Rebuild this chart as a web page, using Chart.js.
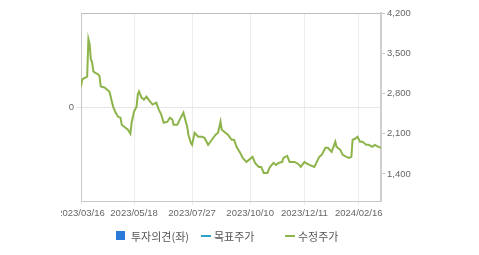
<!DOCTYPE html>
<html><head><meta charset="utf-8">
<script src="https://cdn.jsdelivr.net/npm/chart.js@4"></script>
<style>
html,body{margin:0;padding:0;background:#fff;}
#wrap{position:relative;width:479px;height:255px;overflow:hidden;}
#c{position:absolute;left:0;top:0;clip-path:inset(0 0 0 61px);}
.lg{position:absolute;font:11px "Noto Sans CJK KR","Noto Sans",sans-serif;color:#555;line-height:12px;top:230px;white-space:nowrap;}
.mk{position:absolute;}
</style></head>
<body>
<div id="wrap">
<canvas id="c" width="479" height="255"></canvas>
<div class="mk" style="left:116px;top:231px;width:9px;height:9px;background:#2b7bdb"></div>
<div class="lg" style="left:131px">투자의견(좌)</div>
<div class="mk" style="left:201px;top:235px;width:10px;height:2px;background:#2ba3c6"></div>
<div class="lg" style="left:214px">목표주가</div>
<div class="mk" style="left:285px;top:235px;width:10px;height:2px;background:#8db44a"></div>
<div class="lg" style="left:298px">수정주가</div>
</div>
<script>
// trading-day index (from 2023/03/16) and adjusted price
const dayIdx = [0,1,2,5,6,7,8,9,10,11,14,15,16,19,21,23,24,26,28,30,32,33,36,38,40,41,43,45,46,47,49,51,53,56,58,61,63,65,67,70,72,74,75,78,80,83,84,86,87,89,90,92,95,98,100,103,106,109,111,113,114,117,119,122,124,126,129,131,134,136,139,141,144,146,148,151,153,156,158,160,163,164,167,169,173,176,178,181,182,185,189,191,193,195,198,200,203,206,207,210,212,215,217,219,220,222,224,226,228,231,233,236,238,241,243];
const prices = [2920,3045,3060,3095,3745,3657,3395,3342,3185,3167,3132,3097,2922,2905,2870,2835,2747,2572,2467,2397,2380,2257,2205,2170,2100,2292,2485,2572,2782,2835,2730,2695,2747,2660,2607,2642,2520,2432,2292,2310,2380,2345,2257,2257,2345,2467,2380,2222,2082,1942,1907,2117,2047,2047,2030,1907,1995,2082,2117,2310,2170,2117,2082,1995,1995,1872,1767,1680,1610,1645,1697,1592,1522,1522,1417,1417,1522,1592,1557,1592,1610,1680,1715,1610,1610,1575,1522,1610,1592,1557,1522,1610,1697,1732,1855,1855,1785,1960,1872,1820,1732,1697,1680,1697,1995,2012,2047,1960,1960,1907,1907,1872,1907,1872,1855];
const tickIdx = [0,43,90,137,181,225];
const tickLabels = ['2023/03/16','2023/05/18','2023/07/27','2023/10/10','2023/12/11','2024/02/16'];
const rightTicks = [1400,2100,2800,3500,4200];
const leftTicks = [0];
const opinion = [];
const target = [];

const tickFont = {family:'"Liberation Sans", Arial, sans-serif', size:9.5};
const tickColor = '#666';

new Chart(document.getElementById('c'), {
  data: {
    datasets: [
      {type:'bar', label:'투자의견(좌)', data:opinion, backgroundColor:'#2b7bdb', xAxisID:'x', yAxisID:'yL'},
      {type:'line', label:'목표주가', data:target, borderColor:'#2ba3c6', xAxisID:'x', yAxisID:'yR', pointRadius:0},
      {type:'line', label:'수정주가', data:dayIdx.map((d,i)=>({x:d,y:prices[i]})), borderColor:'#8db44a', borderWidth:2, pointRadius:0, tension:0, xAxisID:'x', yAxisID:'yR'}
    ]
  },
  options: {
    responsive:false, animation:false,
    layout:{padding:{top:13,bottom:0,left:0,right:0}},
    plugins:{legend:{display:false}, tooltip:{enabled:false}},
    scales:{
      x:{type:'linear', position:'bottom', min:0, max:243, offset:false,
        afterBuildTicks:s=>{s.ticks = tickIdx.map(v=>({value:v}));},
        afterFit:s=>{s.height = 54;},
        ticks:{callback:v=>tickLabels[tickIdx.indexOf(v)], font:tickFont, color:tickColor, padding:3, maxRotation:0, autoSkip:false},
        grid:{color:'#ececec', tickLength:4, drawTicks:true, offset:false},
        border:{display:true, color:'#c8c8c8'}
      },
      xTop:{type:'linear', position:'top', min:0, max:243, offset:false,
        ticks:{display:false}, grid:{display:false},
        border:{display:true, color:'#bdbdbd'},
        afterFit:s=>{s.height=0;}
      },
      yL:{type:'linear', position:'left', min:-1, max:1,
        afterBuildTicks:s=>{s.ticks = leftTicks.map(v=>({value:v}));},
        afterFit:s=>{s.width = 81;},
        ticks:{font:tickFont, color:tickColor, padding:2},
        grid:{color:'#e6e6e6', tickLength:5},
        border:{display:true, color:'#c8c8c8'}
      },
      yR:{type:'linear', position:'right', min:930, max:4200,
        afterBuildTicks:s=>{s.ticks = rightTicks.map(v=>({value:v}));},
        afterFit:s=>{s.width = 98;},
        ticks:{font:tickFont, color:tickColor, padding:2, callback:v=>v.toLocaleString('en-US')},
        grid:{drawOnChartArea:false, color:'#c8c8c8', tickLength:4},
        border:{display:true, color:'#cfcfcf', width:2}
      }
    }
  }
});
</script>
</body></html>
